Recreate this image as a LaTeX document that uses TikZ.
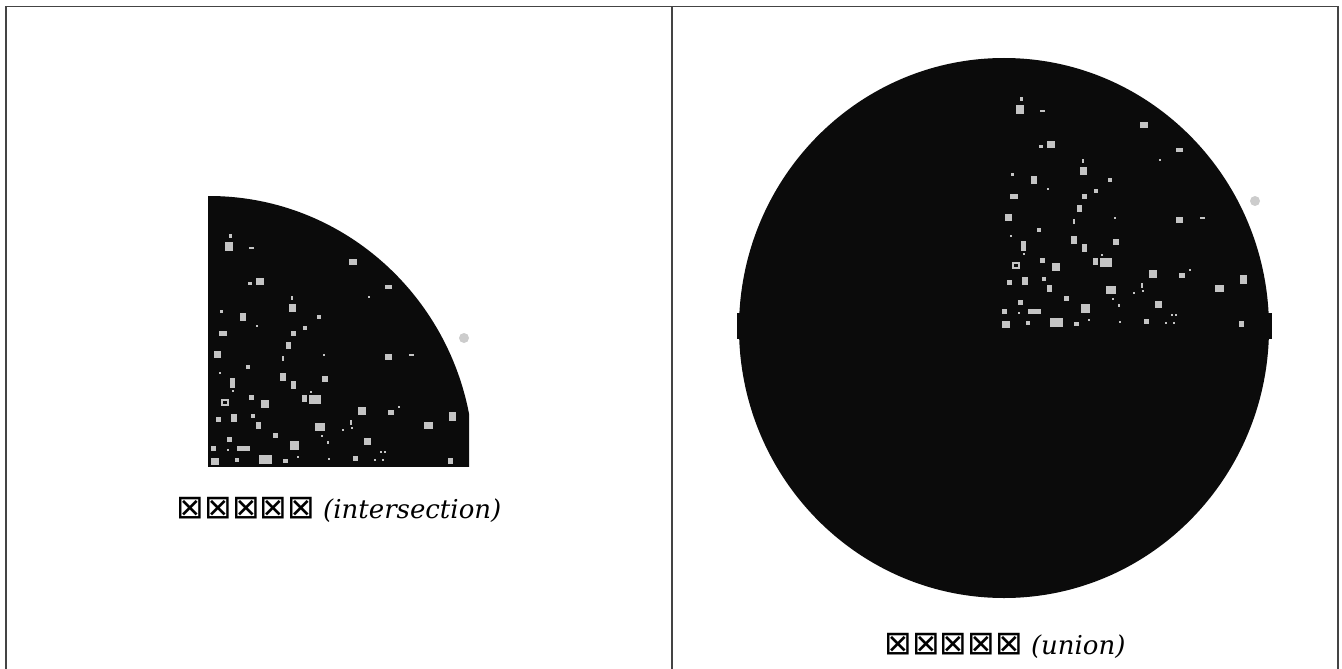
\documentclass[tikz,border=0pt]{standalone}
\usepackage{fontspec}
\setmainfont{DejaVu Serif}
\newfontfamily\boxfont{DejaVu Sans}
\definecolor{ink}{HTML}{0B0B0B}
\definecolor{speck}{HTML}{C4C4C4}
\definecolor{faint}{HTML}{CCCCCC}
\definecolor{rule}{HTML}{444444}
\tikzset{
  frame/.style={draw=rule, line width=1.3pt},
  blob/.style={fill=ink, draw=none},
  lbl/.style={inner sep=0pt, font=\fontsize{26}{30}\selectfont},
}
\newcommand{\tofu}{{\boxfont\fontsize{33}{34}\selectfont ⊠⊠⊠⊠⊠}}
\newcommand{\specks}{%
  \foreach \x/\y/\w/\h in {229/246/8/9,230/236/3/4,251/248/5/2,353/262/8/6,250/283/4/3,260/281/8/7,
    388/287/7/4,369/297/2/2,292/298/2/4,292/308/7/8,221/311/3/3,243/317/6/8,319/317/4/4,257/326/2/2,
    223/333/8/5,293/333/5/5,305/328/4/4,288/345/5/7,217/354/7/7,283/358/2/5,324/355/2/2,388/357/7/6,
    411/355/5/2,248/367/4/4,220/373/2/2,232/383/5/10,283/377/6/8,293/385/5/8,325/379/6/6,233/391/2/2,
    251/397/5/5,265/404/8/8,304/398/5/7,315/399/12/9,311/392/2/2,362/411/8/8,391/412/6/5,399/407/2/2,
    218/419/5/5,234/418/6/8,253/416/4/4,258/425/5/7,320/427/10/8,343/430/2/2,351/422/2/5,352/428/2/2,
    428/425/9/7,452/416/7/9,275/435/5/5,229/439/5/5,322/436/2/2,328/442/2/3,367/441/7/7,213/448/5/5,
    228/450/2/2,243/448/13/5,294/445/9/9,381/452/2/2,385/452/2/2,215/461/8/7,237/460/4/4,265/459/13/9,
    285/461/5/4,298/457/2/2,329/459/2/2,355/458/5/5,375/460/2/2,383/460/2/2,450/461/5/6}
  {\fill[speck] (\x-\w/2,\y-\h/2) rectangle ++(\w,\h);}
  \draw[speck, line width=1.5pt] (222,400) rectangle (228,405);
}
\begin{document}
\begin{tikzpicture}[x=1pt, y=-1pt]
\useasboundingbox (0,0) rectangle (1342,669);
% frame
\coordinate (tl) at (6,6.5);
\coordinate (tr) at (1338,6.5);
\coordinate (ml) at (6,669);
\coordinate (mt) at (672,6.5);
\coordinate (mb) at (672,669);
\coordinate (rb) at (1338,669);
\draw[frame] (ml) -- (tl) -- (tr) -- (rb);
\draw[frame] (mt) -- (mb);
% left panel: intersection
\begin{scope}
  \clip (208,195) rectangle (469,466);
  \fill[blob] (209,466) ellipse [x radius=265, y radius=270];
  \specks
\end{scope}
\fill[faint] (464,338) circle (5);
\node[lbl] (labA) at (339,510) {\tofu\ \textit{(intersection)}};
% right panel: union
\fill[blob] (1004,328) ellipse [x radius=265, y radius=270];
\fill[blob] (737,313) rectangle (1272,339);
\begin{scope}[shift={(791,-137)}]
  \begin{scope}
    \clip (208,195) rectangle (469,466);
    \specks
  \end{scope}
  \fill[faint] (464,338) circle (5);
\end{scope}
\node[lbl] (labB) at (1005,646) {\tofu\ \textit{(union)}};
\end{tikzpicture}
\end{document}
